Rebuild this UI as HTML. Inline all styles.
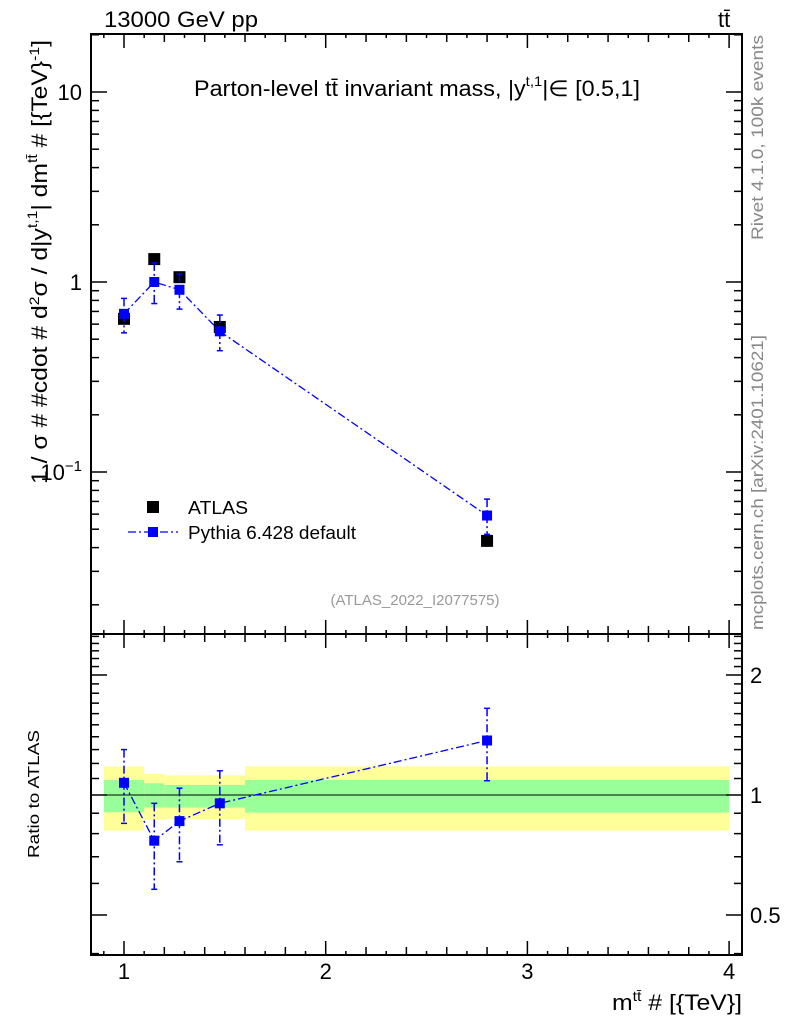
<!DOCTYPE html>
<html><head><meta charset="utf-8"><style>
html,body{margin:0;padding:0;background:#fff;}
svg{display:block;font-family:"Liberation Sans",sans-serif;}
</style></head><body>
<svg id="c" width="786" height="1024" xmlns="http://www.w3.org/2000/svg"></svg>
<script>
const binEdges=[0.9,1.1,1.2,1.35,1.6,4.0];
const xCenters=[1.0,1.15,1.275,1.475,2.8];
const atlasVals=[0.64,1.32,1.06,0.58,0.0434];
const pythiaVals=[0.68,1.0,0.91,0.55,0.059];
const pythiaErrUp=[0.82,1.26,1.1,0.67,0.072];
const pythiaErrDn=[0.54,0.77,0.72,0.435,0.047];
const ratioVals=[1.073,0.768,0.86,0.953,1.37];
const ratioErrUp=[1.30,0.953,1.04,1.15,1.65];
const ratioErrDn=[0.849,0.58,0.68,0.75,1.086];
const bandYelUp=[1.18,1.13,1.12,1.12,1.18];
const bandYelDn=[0.814,0.866,0.87,0.87,0.814];
const bandGrnUp=[1.09,1.07,1.06,1.06,1.09];
const bandGrnDn=[0.905,0.93,0.93,0.93,0.903];
const xTicks=[1,2,3,4];
const mainYTicks=[10,1,0.1];
const ratioYTicks=[2,1,0.5];

const L=91,R=742,T=34,MB=634,RB=955;
const X=v=>124+(v-1)*201.7;
const YM=v=>92+(1-Math.log10(v))*190;
const YR=v=>795-Math.log10(v)*398.6;
const svg=document.getElementById('c');
const NS='http://www.w3.org/2000/svg';
function mk(tag,attrs,parent){const e=document.createElementNS(NS,tag);for(const k in attrs)e.setAttribute(k,attrs[k]);(parent||svg).appendChild(e);return e;}
function txt(s,attrs){const e=mk('text',attrs);e.textContent=s;return e;}

for(let i=0;i<5;i++){
  const x0=Math.max(X(binEdges[i]),L),x1=Math.min(X(binEdges[i+1]),R);
  const y=mk('rect',{x:x0,y:YR(bandYelUp[i]),width:x1-x0,height:YR(bandYelDn[i])-YR(bandYelUp[i]),fill:'#ffff99'});
  
  
  const g=mk('rect',{x:x0,y:YR(bandGrnUp[i]),width:x1-x0,height:YR(bandGrnDn[i])-YR(bandGrnUp[i]),fill:'#99ff99'});
  
  
}
mk('line',{x1:L,x2:R,y1:YR(1),y2:YR(1),stroke:'#000','stroke-width':1});

const f1=mk('rect',{x:L,y:T,width:R-L,height:MB-T,fill:'none',stroke:'#000','stroke-width':2});


const f2=mk('rect',{x:L,y:MB,width:R-L,height:RB-MB,fill:'none',stroke:'#000','stroke-width':2});



for(let v=0.9;v<=4.0001;v+=0.1){
  const vv=Math.round(v*10)/10;
  const major=Math.abs(vv-Math.round(vv))<1e-6;
  const len=major?14:(Math.round(vv*10)%2===0?8:4);
  const x=X(vv);
  for(const [y0,d] of [[T,1],[MB,-1],[MB,1],[RB,-1]]) mk('line',{x1:x,x2:x,y1:y0,y2:y0+d*len,stroke:'#000','stroke-width':1.5});
}
xTicks.forEach(v=>{const t=txt(String(v),{x:X(v),y:979,'font-size':22,'text-anchor':'middle'});});

for(let d=-2;d<=1;d++){for(let m=1;m<=9;m++){const v=m*Math.pow(10,d);const y=YM(v);if(y<T||y>MB)continue;const len=m===1?16:8;
  mk('line',{x1:L,x2:L+len,y1:y,y2:y,stroke:'#000','stroke-width':1.5});mk('line',{x1:R,x2:R-len,y1:y,y2:y,stroke:'#000','stroke-width':1.5});}}
const yl1=txt('10',{x:82,y:YM(10)+8,'font-size':22,'text-anchor':'end'});
const yl2=txt('1',{x:82,y:YM(1)+8,'font-size':22,'text-anchor':'end'});
const yl3=mk('text',{x:82,y:YM(0.1)+8,'font-size':22,'text-anchor':'end'});yl3.innerHTML='10<tspan dy="-9" font-size="15">−1</tspan>';

for(let k=4;k<=25;k++){const v=k/10;const y=YR(v);if(y<MB||y>RB)continue;const len=(k===10||k===20||k===5)?16:8;
  mk('line',{x1:L,x2:L+len,y1:y,y2:y,stroke:'#000','stroke-width':1.5});mk('line',{x1:R,x2:R-len,y1:y,y2:y,stroke:'#000','stroke-width':1.5});}
ratioYTicks.forEach(v=>{const t=txt(String(v),{x:750,y:YR(v)+8,'font-size':22});});

atlasVals.forEach((v,i)=>{const r=mk('rect',{x:X(xCenters[i])-6,y:YM(v)-6,width:12,height:12,fill:'#000'});});

const pl=mk('polyline',{points:xCenters.map((x,i)=>X(x)+','+YM(pythiaVals[i])).join(' '),fill:'none',stroke:'#0000ff','stroke-width':1.3,'stroke-dasharray':'8,3,2,3'});

xCenters.forEach((x,i)=>{const cx=X(x);
  mk('line',{x1:cx,x2:cx,y1:YM(pythiaErrUp[i]),y2:YM(pythiaErrDn[i]),stroke:'#0000ff','stroke-width':1.5,'stroke-dasharray':'8,3,2,3'});
  mk('line',{x1:cx-3,x2:cx+3,y1:YM(pythiaErrUp[i]),y2:YM(pythiaErrUp[i]),stroke:'#0000ff','stroke-width':1.5});
  mk('line',{x1:cx-3,x2:cx+3,y1:YM(pythiaErrDn[i]),y2:YM(pythiaErrDn[i]),stroke:'#0000ff','stroke-width':1.5});
  const r=mk('rect',{x:cx-5,y:YM(pythiaVals[i])-5,width:10,height:10,fill:'#0000ff'});});

const rl=mk('polyline',{points:xCenters.map((x,i)=>X(x)+','+YR(ratioVals[i])).join(' '),fill:'none',stroke:'#0000ff','stroke-width':1.3,'stroke-dasharray':'8,3,2,3'});

xCenters.forEach((x,i)=>{const cx=X(x);
  mk('line',{x1:cx,x2:cx,y1:YR(ratioErrUp[i]),y2:YR(ratioErrDn[i]),stroke:'#0000ff','stroke-width':1.5,'stroke-dasharray':'8,3,2,3'});
  mk('line',{x1:cx-3,x2:cx+3,y1:YR(ratioErrUp[i]),y2:YR(ratioErrUp[i]),stroke:'#0000ff','stroke-width':1.5});
  mk('line',{x1:cx-3,x2:cx+3,y1:YR(ratioErrDn[i]),y2:YR(ratioErrDn[i]),stroke:'#0000ff','stroke-width':1.5});
  const r=mk('rect',{x:cx-5,y:YR(ratioVals[i])-5,width:10,height:10,fill:'#0000ff'});});
</script>
<svg style="position:absolute;left:0;top:0" width="786" height="1024" xmlns="http://www.w3.org/2000/svg" font-family="Liberation Sans, sans-serif">
<text x="104" y="27" font-size="22" textLength="154" lengthAdjust="spacingAndGlyphs">13000 GeV pp</text>
<text x="718" y="27" font-size="22">tt̄</text>
<text x="194" y="96" font-size="22" textLength="446" lengthAdjust="spacingAndGlyphs">Parton-level tt̄ invariant mass, |y<tspan dy="-10" font-size="14">t,1</tspan><tspan dy="10">|∈ [0.5,1]</tspan></text>
<text transform="translate(47,484) rotate(-90)" font-size="22" textLength="444" lengthAdjust="spacingAndGlyphs">1 / σ # #cdot # d<tspan dy="-8" font-size="14">2</tspan><tspan dy="8">σ / d|y</tspan><tspan dy="-10" font-size="14">t,1</tspan><tspan dy="10">| dm</tspan><tspan dy="-10" font-size="14">tt̄</tspan><tspan dy="10"> # [{TeV}</tspan><tspan dy="-8" font-size="14">-1</tspan><tspan dy="8">]</tspan></text>
<text transform="translate(39,858) rotate(-90)" font-size="16" textLength="128" lengthAdjust="spacingAndGlyphs">Ratio to ATLAS</text>
<text x="612" y="1010" font-size="22" textLength="130" lengthAdjust="spacingAndGlyphs">m<tspan dy="-9" font-size="14">tt̄</tspan><tspan dy="9"> # [{TeV}]</tspan></text>
<text transform="translate(763,240) rotate(-90)" font-size="17" fill="#888" textLength="205" lengthAdjust="spacingAndGlyphs">Rivet 4.1.0,  100k events</text>
<text transform="translate(763,630) rotate(-90)" font-size="17" fill="#888" textLength="295" lengthAdjust="spacingAndGlyphs">mcplots.cern.ch [arXiv:2401.10621]</text>
<text x="415" y="605" font-size="15" fill="#999" text-anchor="middle">(ATLAS_2022_I2077575)</text>
<rect x="147" y="501" width="12" height="12" fill="#000"/>
<text x="188" y="514" font-size="18" textLength="60" lengthAdjust="spacingAndGlyphs">ATLAS</text>
<line x1="128" x2="178" y1="532" y2="532" stroke="#00f" stroke-width="1.3" stroke-dasharray="8,3,2,3"/>
<rect x="148" y="527" width="10" height="10" fill="#00f"/>
<text x="188" y="539" font-size="18" textLength="168" lengthAdjust="spacingAndGlyphs">Pythia 6.428 default</text>
</svg>
</body></html>
